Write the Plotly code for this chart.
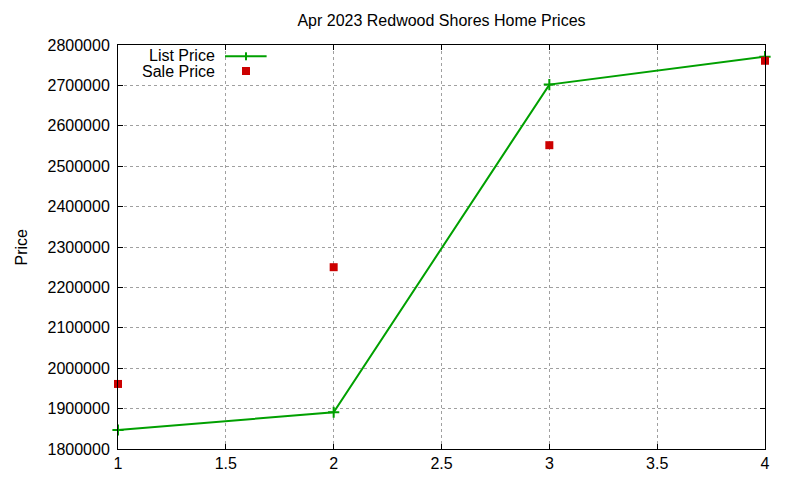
import plotly.graph_objects as go

# data
months_idx = [1, 2, 3, 4]
list_price = [1847000, 1891000, 2702000, 2771000]
sale_price = [1961000, 2250000, 2552000, 2761000]

GREEN = "#00a000"
RED = "#cc0000"
FONT = "Liberation Sans, Arial, sans-serif"

fig = go.Figure()

fig.add_trace(go.Scatter(
    x=months_idx, y=list_price, mode="lines+markers", name="List Price",
    line=dict(color=GREEN, width=2),
    marker=dict(symbol="cross-thin", size=8, line=dict(color=GREEN, width=2)),
    cliponaxis=False, showlegend=False))

fig.add_trace(go.Scatter(
    x=months_idx, y=sale_price, mode="markers", name="Sale Price",
    marker=dict(symbol="square", size=8, color=RED),
    cliponaxis=False, showlegend=False))

axis_style = dict(
    showline=True, linecolor="black", linewidth=1, mirror="allticks",
    ticks="inside", ticklen=5, tickcolor="black",
    showgrid=True, gridcolor="#a0a0a0", griddash="dot", gridwidth=1,
    zeroline=False, tickfont=dict(size=16, color="black", family=FONT))

fig.update_xaxes(range=[1, 4], dtick=0.5, tick0=1, **axis_style)
fig.update_yaxes(range=[1800000, 2800000], dtick=100000, tickformat="d",
                 ticklabelstandoff=4, **axis_style)

# gnuplot style key: text on the left, sample on the right
key_text_x = 0.153
key_sample_x = 0.1978
fig.add_annotation(text="List Price", xref="paper", yref="paper", x=key_text_x, y=0.974,
                   xanchor="right", yanchor="middle", showarrow=False, height=15,
                   font=dict(size=16, family=FONT, color="black"))
fig.add_annotation(text="Sale Price", xref="paper", yref="paper", x=key_text_x, y=0.9356,
                   xanchor="right", yanchor="middle", showarrow=False, height=15,
                   font=dict(size=16, family=FONT, color="black"))
fig.add_shape(type="line", xref="paper", yref="paper", x0=0.1654, x1=0.2297, y0=0.972, y1=0.972,
              line=dict(color=GREEN, width=2))
fig.add_shape(type="line", xref="paper", yref="paper", xsizemode="pixel", xanchor=key_sample_x,
              x0=0, x1=0, ysizemode="pixel", yanchor=0.972, y0=-4, y1=4,
              line=dict(color=GREEN, width=2))
fig.add_shape(type="rect", xref="paper", yref="paper", xsizemode="pixel", xanchor=key_sample_x,
              x0=-4, x1=4, ysizemode="pixel", yanchor=0.9356, y0=-4, y1=4,
              fillcolor=RED, line=dict(width=0))

fig.add_annotation(text="Price", xref="paper", yref="paper", x=-108 / 647, y=0.5,
                   xanchor="left", yanchor="middle", textangle=-90, showarrow=False,
                   font=dict(size=16, family=FONT, color="black"))

fig.update_layout(
    width=800, height=480,
    title=dict(text="Apr 2023 Redwood Shores Home Prices", x=0.5, xref="paper",
               y=1 - 12 / 480, yref="container", yanchor="middle", xanchor="center",
               font=dict(size=16, family=FONT, color="black")),
    margin=dict(l=110, r=43, t=37, b=39),
    paper_bgcolor="white", plot_bgcolor="white",
    font=dict(family=FONT, color="black"))

fig.write_html("out.html")
